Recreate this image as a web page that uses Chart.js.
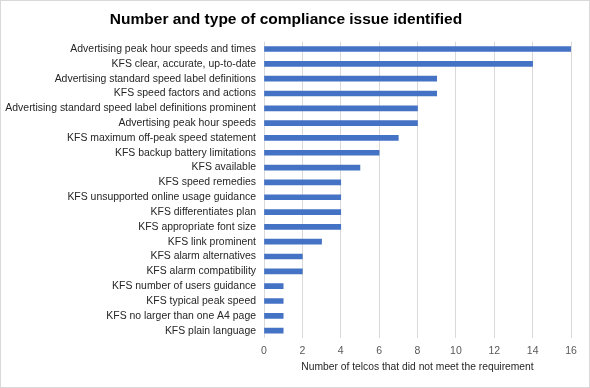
<!DOCTYPE html>
<html>
<head>
<meta charset="utf-8">
<script src="https://cdn.jsdelivr.net/npm/chart.js@4"></script>
<style>
  html, body { margin: 0; padding: 0; background: #fff; }
  #wrap { position: relative; width: 588px; height: 386px; border: 1px solid #d9d9d9; }
</style>
</head>
<body>
<div id="wrap"><canvas id="c" width="588" height="386"></canvas></div>
<script>
const issues = [
  'Advertising peak hour speeds and times',
  'KFS clear, accurate, up-to-date',
  'Advertising standard speed label definitions',
  'KFS speed factors and actions',
  'Advertising standard speed label definitions prominent',
  'Advertising peak hour speeds',
  'KFS maximum off-peak speed statement',
  'KFS backup battery limitations',
  'KFS available',
  'KFS speed remedies',
  'KFS unsupported online usage guidance',
  'KFS differentiates plan',
  'KFS appropriate font size',
  'KFS link prominent',
  'KFS alarm alternatives',
  'KFS alarm compatibility',
  'KFS number of users guidance',
  'KFS typical peak speed',
  'KFS no larger than one A4 page',
  'KFS plain language',
];
const telcos = [16, 14, 9, 9, 8, 8, 7, 6, 5, 4, 4, 4, 4, 3, 2, 2, 1, 1, 1, 1];
const xTicks = [0, 2, 4, 6, 8, 10, 12, 14, 16];

const font = "'Liberation Sans', Arial, sans-serif";
const grey = '#595959';

new Chart(document.getElementById('c'), {
  type: 'bar',
  data: {
    labels: issues,
    datasets: [{
      data: telcos,
      backgroundColor: '#4472c4',
      borderWidth: 0,
      barThickness: 5,
    }],
  },
  options: {
    indexAxis: 'y',
    responsive: false,
    animation: false,
    layout: { padding: { left: 0, right: 18, top: 4, bottom: 14 } },
    scales: {
      x: {
        min: 0,
        max: 16,
        afterBuildTicks: (s) => { s.ticks = xTicks.map((v) => ({ value: v })); },
        grid: { color: '#d9d9d9', drawTicks: false },
        border: { display: false },
        ticks: { color: grey, font: { family: font, size: 10.5 }, padding: 7 },
        title: {
          display: true,
          text: 'Number of telcos that did not meet the requirement',
          color: '#262626',
          font: { family: font, size: 10.3 },
          padding: { top: -4, bottom: 0 },
        },
      },
      y: {
        grid: { display: false, drawTicks: false },
        border: { display: false },
        ticks: { color: '#262626', font: { family: font, size: 10.45 }, padding: 8, autoSkip: false },
        afterFit: (s) => { s.width = 263; },
      },
    },
    plugins: {
      legend: { display: false },
      tooltip: { enabled: false },
      title: {
        display: true,
        text: 'Number and type of compliance issue identified',
        color: '#000',
        font: { family: font, size: 15.5, weight: 'bold' },
        padding: { top: 5, bottom: 13 },
      },
    },
  },
});
</script>
</body>
</html>
